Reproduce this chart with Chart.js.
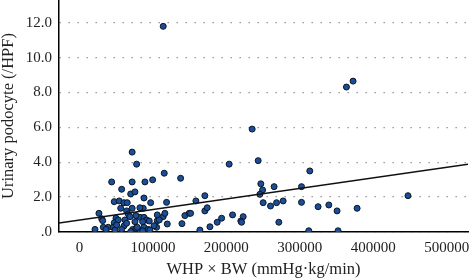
<!DOCTYPE html>
<html>
<head>
<meta charset="utf-8">
<script src="https://cdn.jsdelivr.net/npm/chart.js@4.4.1/dist/chart.umd.min.js"></script>
<style>
html, body { margin: 0; padding: 0; background: #fff; }
#wrap { width: 472px; height: 280px; }
</style>
</head>
<body>
<div id="wrap"><canvas id="chart" width="472" height="280"></canvas></div>
<script>
// WHP x BW against urinary podocyte count
const whpBw = [
  71700, 77800, 43800, 71700, 89100, 99600, 57400, 69700, 75500, 47300,
  54100, 60500, 65000, 87800, 96900, 56100, 71700, 86800, 64200, 26500,
  30200, 49700, 66400, 68700, 61900, 82300, 87800, 91400, 105900, 47300,
  31600, 52800, 75500, 86000, 32400, 39200, 21100, 36100, 46000, 60500,
  57400, 48300, 72400, 76900, 82300, 87800, 93600, 105000, 69700, 78600,
  50600, 64200, 115400, 137700, 118600, 82300, 76900, 105900, 114000, 116300,
  143500, 149400, 95000, 108600, 119500, 139500, 101400, 95900, 86000, 203800,
  243300, 246900, 249300, 245600, 250100, 170700, 158500, 151300, 170700, 173900,
  208400, 222900, 219700, 220700, 193500, 187500, 177600, 163900, 313600, 265000,
  302300, 260100, 268300, 277300, 302300, 324900, 339500, 350700, 378000, 271400,
  312200, 352100, 363500, 372500, 447300, 114000, 235100
];
const podocyte = [
  4.58, 3.89, 2.87, 2.87, 2.87, 2.99, 2.45, 2.18, 2.30, 1.74,
  1.78, 1.68, 1.68, 1.95, 1.68, 1.36, 1.36, 1.36, 1.21, 1.07,
  0.76, 0.79, 1.03, 0.88, 0.69, 0.84, 0.84, 0.69, 0.65, 0.53,
  0.65, 0.69, 0.59, 0.59, 0.27, 0.27, 0.15, 0.15, 0.27, 0.34,
  0.15, 0.11, 0.15, 0.21, 0.11, 0.27, 0.15, 0.27, 0.02, 0.27,
  0.40, 0.50, 3.37, 3.08, 1.70, 1.39, 0.94, 0.98, 0.88, 1.07,
  0.94, 1.07, 0.63, 0.69, 0.46, 0.48, 0.36, 0.11, 0.06, 3.89,
  4.09, 2.76, 2.41, 2.16, 1.68, 2.08, 1.78, 1.07, 1.21, 1.39,
  0.98, 0.88, 0.63, 0.56, 0.79, 0.56, 0.30, 0.11, 3.50, 2.60,
  2.60, 1.49, 1.68, 1.78, 1.70, 1.45, 1.55, 1.21, 1.36, 0.56,
  0.07, 0.07, 8.31, 8.65, 2.08, 11.79, 5.90
];

// fitted line, two ends across the plot
const fitX = [-27900, 529000];
const fitY = [0.52, 3.89];

const xTicks = [0, 100000, 200000, 300000, 400000, 500000];
const yTicks = [0, 2, 4, 6, 8, 10, 12];
const xTitle = 'WHP × BW (mmHg·kg/min)';
const yTitle = 'Urinary podocyte (/HPF)';

const serif = "'Liberation Serif', 'DejaVu Serif', serif";

const points = whpBw.map((x, i) => ({x: x, y: podocyte[i]}));
const fitLine = fitX.map((x, i) => ({x: x, y: fitY[i]}));

new Chart(document.getElementById('chart'), {
  type: 'scatter',
  data: {
    datasets: [{
      type: 'line',
      data: fitLine,
      borderColor: '#111',
      borderWidth: 1.5,
      pointRadius: 0,
      fill: false,
      order: 0
    }, {
      data: points,
      backgroundColor: '#1a4e98',
      borderColor: '#0b1622',
      borderWidth: 1,
      pointRadius: 3,
      order: 1
    }]
  },
  options: {
    responsive: false,
    animation: false,
    layout: {autoPadding: false, padding: {top: 0, right: 4, bottom: 0, left: 0}},
    plugins: {legend: {display: false}, tooltip: {enabled: false}},
    scales: {
      x: {
        type: 'linear',
        min: fitX[0],
        max: fitX[1],
        afterBuildTicks: s => { s.ticks = xTicks.map(v => ({value: v})); },
        afterFit: s => { s.height = 48; s.paddingLeft = 0; s.paddingRight = 0; },
        grid: {display: false, drawTicks: false},
        border: {display: true, color: '#000', width: 1.5},
        ticks: {
          padding: 7,
          color: '#222',
          font: {family: serif, size: 15},
          maxRotation: 0,
          callback: v => String(v)
        },
        title: {
          display: true,
          text: xTitle,
          color: '#222',
          font: {family: serif, size: 16.5},
          padding: {top: 0, bottom: 0}
        }
      },
      y: {
        min: 0,
        max: 13.3,
        afterBuildTicks: s => { s.ticks = yTicks.map(v => ({value: v})); },
        afterFit: s => { s.width = 59; s.paddingTop = 0; s.paddingBottom = 0; },
        grid: {color: '#8a8a8a', lineWidth: 1.3, drawTicks: false},
        border: {display: true, color: '#000', width: 1.5, dash: [1.3, 7.7]},
        ticks: {
          padding: 7,
          color: '#222',
          font: {family: serif, size: 15},
          callback: v => v === 0 ? '.0' : v.toFixed(1)
        },
        title: {
          display: true,
          text: yTitle,
          color: '#222',
          font: {family: serif, size: 16.5},
          padding: {top: -1, bottom: 0}
        }
      }
    }
  }
});
</script>
</body>
</html>
